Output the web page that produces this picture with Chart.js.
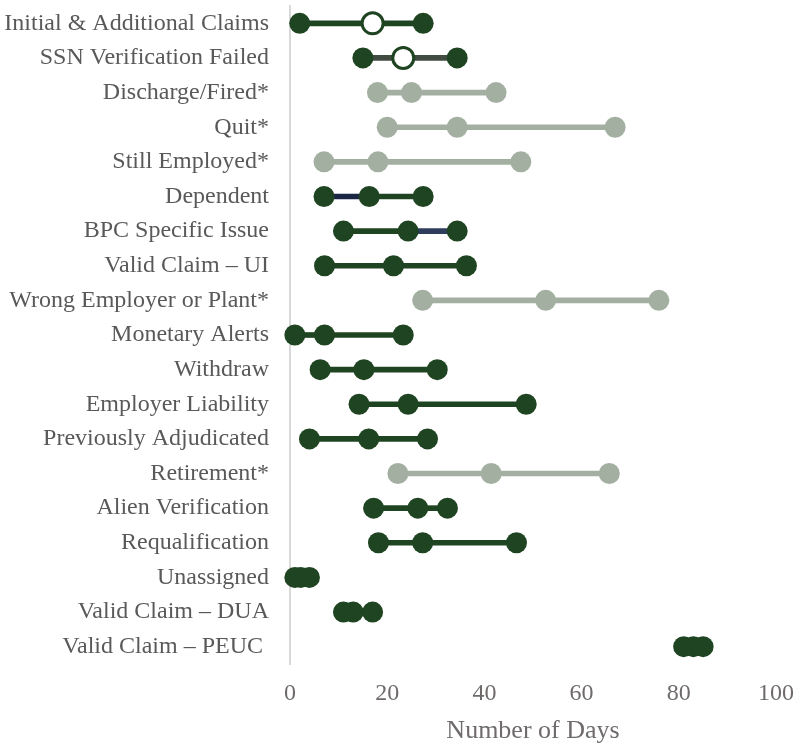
<!DOCTYPE html>
<html>
<head>
<meta charset="utf-8">
<script src="https://cdn.jsdelivr.net/npm/chart.js@4.4.1/dist/chart.umd.min.js"></script>
<style>
  html, body { margin: 0; padding: 0; background: #fff; }
  #wrap { width: 798px; height: 743px; position: relative; }
</style>
</head>
<body>
<div id="wrap"><canvas id="dumbbellChart"></canvas></div>
<script>
const categories = [
    'Initial & Additional Claims', 'SSN Verification Failed', 'Discharge/Fired*', 'Quit*',
    'Still Employed*', 'Dependent', 'BPC Specific Issue', 'Valid Claim – UI',
    'Wrong Employer or Plant*', 'Monetary Alerts', 'Withdraw', 'Employer Liability',
    'Previously Adjudicated', 'Retirement*', 'Alien Verification', 'Requalification',
    'Unassigned', 'Valid Claim – DUA', 'Valid Claim – PEUC '
];
const minDays = [2, 15, 18, 20, 7, 7, 11, 7.1, 27.3, 1, 6.2, 14.2, 4, 22.2, 17.2, 18.2, 1, 11, 81];
const midDays = [17, 23.3, 25, 34.4, 18.1, 16.3, 24.3, 21.3, 52.6, 7.1, 15.2, 24.3, 16.2, 41.4, 26.3, 27.3, 2.2, 13, 83];
const maxDays = [27.4, 34.4, 42.4, 66.9, 47.5, 27.4, 34.4, 36.3, 75.9, 23.3, 30.3, 48.6, 28.3, 65.7, 32.4, 46.6, 4, 17, 85];
// rows where the middle value is shown as an open circle
const openMid = [true, true];

const darkGreen = '#1f4422';
const lightGreen = '#a3b0a1';
const navy = '#1a2744';
const slate = '#2f3d5c';
const grayLine = '#414b41';

const isLight = categories.map(c => c.trim().endsWith('*'));
const dotColors = isLight.map(l => l ? lightGreen : darkGreen);
const lowSegColors = dotColors.slice();
const highSegColors = dotColors.slice();
lowSegColors[1] = grayLine; highSegColors[1] = grayLine;
lowSegColors[5] = navy;
highSegColors[6] = slate;

const midFill = categories.map((c, i) => openMid[i] ? '#ffffff' : dotColors[i]);
const midBorderW = categories.map((c, i) => openMid[i] ? 3 : 0);

const serif = '"Liberation Serif", "Times New Roman", serif';

function segment(label, from, to, colors) {
    return {
        type: 'bar',
        label,
        data: categories.map((c, i) => [from[i], to[i]]),
        backgroundColor: colors,
        barThickness: 5,
        grouped: false,
        borderSkipped: false,
        order: 3,
        indexAxis: 'y'
    };
}

function dots(label, values, fill, borderW) {
    return {
        type: 'line',
        label,
        data: values,
        showLine: false,
        pointRadius: 10.5,
        pointHoverRadius: 10.5,
        pointBackgroundColor: fill,
        pointBorderColor: dotColors,
        pointBorderWidth: borderW,
        order: 1,
        clip: false,
        indexAxis: 'y'
    };
}

new Chart(document.getElementById('dumbbellChart'), {
    type: 'bar',
    data: {
        labels: categories,
        datasets: [
            segment('low', minDays, midDays, lowSegColors),
            segment('high', midDays, maxDays, highSegColors),
            dots('Min', minDays, dotColors, 0),
            dots('Max', maxDays, dotColors, 0),
            dots('Median', midDays, midFill, midBorderW)
        ]
    },
    options: {
        indexAxis: 'y',
        responsive: true,
        maintainAspectRatio: false,
        animation: false,
        layout: { autoPadding: false, padding: { top: 6, right: 22, left: 0, bottom: 0 } },
        plugins: {
            legend: { display: false },
            tooltip: { enabled: false }
        },
        scales: {
            x: {
                type: 'linear',
                min: 0,
                max: 100,
                ticks: { stepSize: 20, color: '#6f6b6b', padding: 15, font: { family: serif, size: 24 } },
                grid: { display: false, drawTicks: false },
                border: { display: false },
                title: {
                    display: true,
                    text: 'Number of Days',
                    color: '#6f6b6b',
                    padding: { top: 0, bottom: -4 },
                    font: { family: serif, size: 26 }
                },
                afterFit: scale => {
                    scale.height = 79;
                    scale.paddingLeft = 0;
                    scale.paddingRight = 0;
                }
            },
            y: {
                type: 'category',
                offset: true,
                ticks: { color: '#595959', padding: 21, font: { family: serif, size: 24 } },
                grid: { display: false, drawTicks: false },
                border: { display: true, color: '#d9d9d9', width: 2 },
                afterFit: scale => {
                    scale.width = 290;
                    scale.paddingTop = 0;
                    scale.paddingBottom = 0;
                }
            }
        }
    }
});
</script>
</body>
</html>
